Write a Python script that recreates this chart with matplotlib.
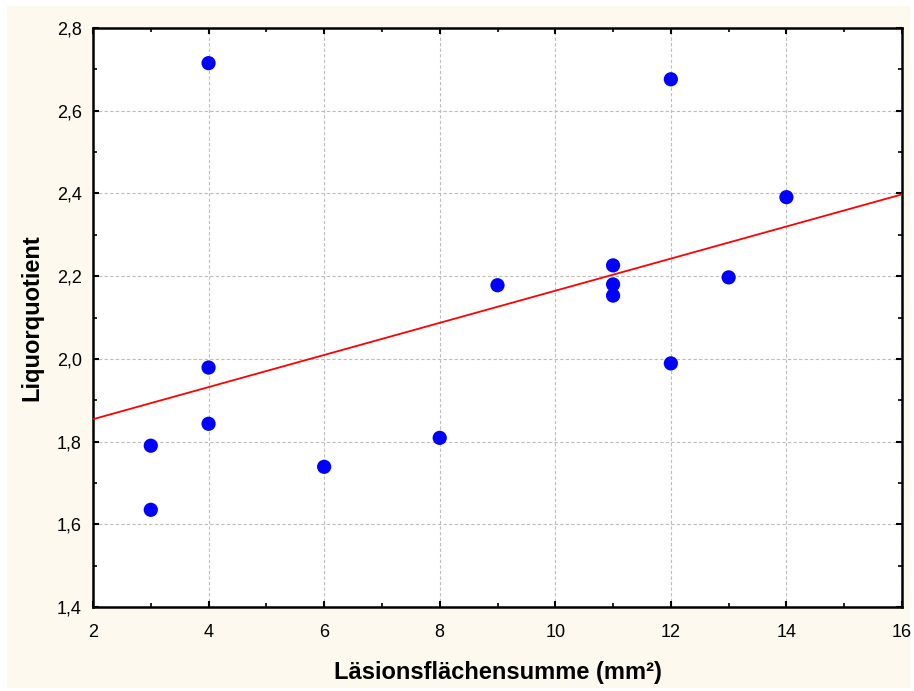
import numpy as np
import matplotlib
matplotlib.use("Agg")
import matplotlib.pyplot as plt
from matplotlib.patches import Rectangle
from matplotlib.ticker import MultipleLocator, FuncFormatter

plt.rcParams['font.family'] = ['Liberation Sans', 'DejaVu Sans']

x_vals = [4, 12, 14, 11, 11, 11, 9, 13, 12, 4, 4, 3, 8, 6, 3]
y_vals = [2.715, 2.676, 2.391, 2.226, 2.180, 2.153, 2.178, 2.197, 1.989,
          1.979, 1.843, 1.790, 1.809, 1.739, 1.635]
x_label = "Läsionsflächensumme (mm²)"
y_label = "Liquorquotient"

fig = plt.figure(figsize=(9.14, 6.91), dpi=100)
fig.patch.set_facecolor('white')
fig.patches.append(Rectangle((7/914, 3/691), 903/914, 682/691, transform=fig.transFigure,
                             facecolor='#fdf9ee', edgecolor='none', zorder=-10))

ax = fig.add_axes([93/914, 1-607/691, 809/914, 579/691])
ax.set_zorder(1)
ax.set_facecolor('white')

x = np.array(x_vals, dtype=float)
y = np.array(y_vals, dtype=float)
slope, intercept = np.polyfit(x, y, 1)
xl = np.array([2, 16])
ax.plot(xl, intercept + slope*xl, color='#ff0000', lw=1.3, zorder=3)
ax.scatter(x, y, s=105, color='#0000ff', edgecolors='none', zorder=4)

ax.set_xlim(2, 16)
ax.set_ylim(1.4, 2.8)
ax.xaxis.set_major_locator(MultipleLocator(2))
ax.xaxis.set_minor_locator(MultipleLocator(1))
ax.yaxis.set_major_locator(MultipleLocator(0.2))
ax.yaxis.set_minor_locator(MultipleLocator(0.1))
ax.yaxis.set_major_formatter(FuncFormatter(lambda v, p: f"{v:.1f}".replace('.', ',')))
ax.grid(True, which='major', color='#bdbdbd', linestyle=(0, (3, 2)), lw=0.8)
ax.tick_params(which='both', direction='in', top=True, right=True, colors='black',
               labelsize=13, width=1.5)
ax.tick_params(which='major', length=4)
ax.tick_params(which='minor', length=3, width=1.2)
ax.tick_params(axis='x', pad=12)
ax.tick_params(axis='y', pad=8)
for s in ax.spines.values():
    s.set_linewidth(1.8)
    s.set_color('black')

ax.set_xlabel(x_label, fontsize=17, fontweight='bold', va='center')
ax.set_ylabel(y_label, fontsize=17, fontweight='bold', va='center')
ax.xaxis.set_label_coords(0.5, (607 - 673) / 579)
ax.yaxis.set_label_coords((32 - 93) / 809, 0.5)

fig.savefig("out.png", dpi=100, facecolor=fig.get_facecolor())
